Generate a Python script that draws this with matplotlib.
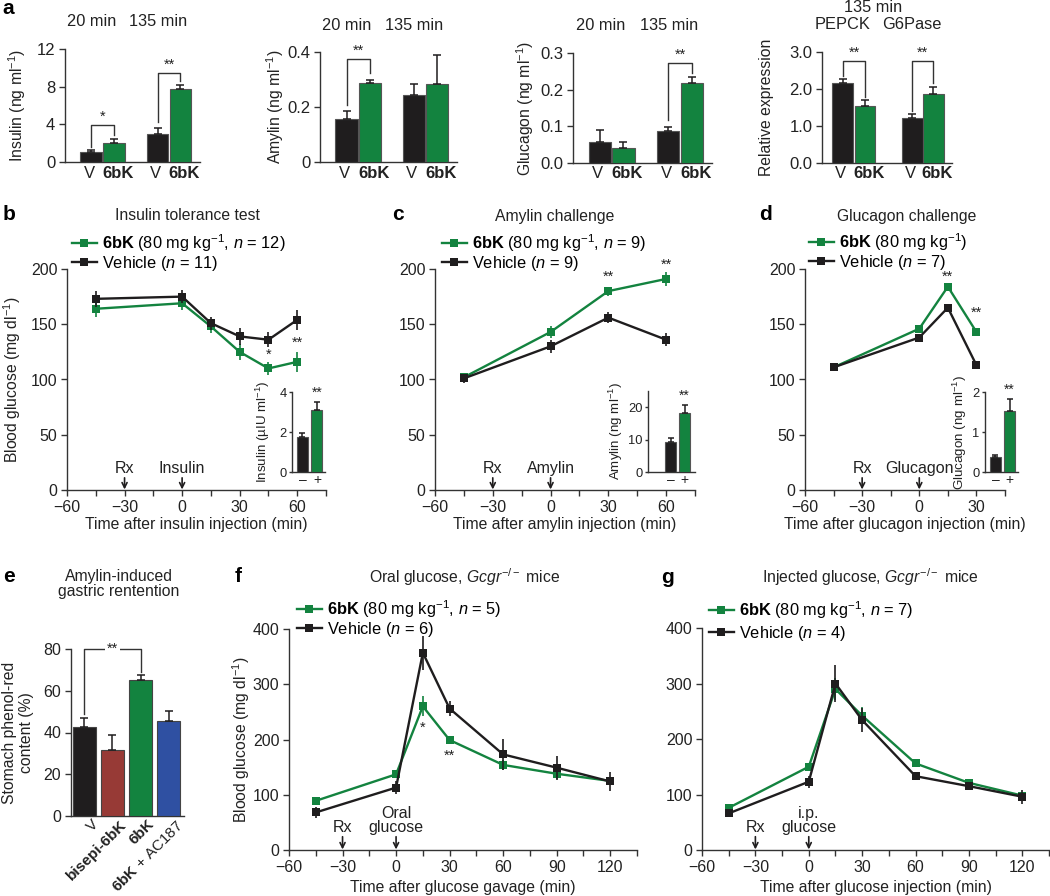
import matplotlib
matplotlib.use('Agg')
import matplotlib.pyplot as plt
from matplotlib.lines import Line2D

plt.rcParams['font.family'] = ['Liberation Sans', 'DejaVu Sans']
plt.rcParams['mathtext.fontset'] = 'custom'
plt.rcParams['mathtext.rm'] = 'Liberation Sans'
plt.rcParams['mathtext.it'] = 'Liberation Sans:italic'
plt.rcParams['mathtext.bf'] = 'Liberation Sans:bold'
plt.rcParams['axes.unicode_minus'] = True

# ------------------------------------------------------------------ data
# panel a
a_groups = ['20 min', '135 min']
a_bar_labels = ['V', '6bK']
insulin_V = [1.1, 2.95]
insulin_V_err = [0.2, 0.7]
insulin_6bK = [2.02, 7.74]
insulin_6bK_err = [0.4, 0.42]
amylin_V = [0.156, 0.244]
amylin_V_err = [0.031, 0.04]
amylin_6bK = [0.289, 0.284]
amylin_6bK_err = [0.010, 0.104]
glucagon_V = [0.058, 0.088]
glucagon_V_err = [0.032, 0.011]
glucagon_6bK = [0.041, 0.219]
glucagon_6bK_err = [0.015, 0.015]
expr_genes = ['PEPCK', 'G6Pase']
expr_V = [2.16, 1.22]
expr_V_err = [0.12, 0.11]
expr_6bK = [1.55, 1.87]
expr_6bK_err = [0.14, 0.18]

# panel b: insulin tolerance test
b_time = [-45, 0, 15, 30, 45, 60]
b_6bK = [164, 169, 148, 125, 110, 116]
b_6bK_err = [7, 6, 6, 7, 6, 9]
b_veh = [173, 175, 151, 139, 136, 154]
b_veh_err = [7, 6, 6, 8, 7, 9]
b_inset = [1.75, 3.1]
b_inset_err = [0.18, 0.42]

# panel c: amylin challenge
c_time = [-45, 0, 30, 60]
c_6bK = [102, 143, 180, 191]
c_6bK_err = [4, 5, 4, 6]
c_veh = [101, 130, 156, 136]
c_veh_err = [4, 6, 5, 6]
c_inset = [9.2, 18.2]
c_inset_err = [1.4, 2.6]

# panel d: glucagon challenge
d_time = [-45, 0, 15, 30]
d_6bK = [111, 146, 184, 143]
d_6bK_err = [3, 3, 3, 3]
d_veh = [111, 138, 165, 113]
d_veh_err = [3, 3, 3, 3]
d_inset = [0.37, 1.53]
d_inset_err = [0.05, 0.30]

# panel e: gastric retention
e_labels = ['V', 'bisepi-6bK', '6bK', r'$\mathbf{6bK}$ + AC187']
e_vals = [42.5, 31.5, 65.0, 45.5]
e_err = [4.5, 7.5, 2.5, 4.8]

# panel f: oral glucose, Gcgr-/- mice
f_time = [-45, 0, 15, 30, 60, 90, 120]
f_6bK = [89, 137, 260, 199, 154, 138, 125]
f_6bK_err = [5, 6, 18, 5, 9, 9, 6]
f_veh = [68, 113, 357, 256, 173, 149, 124]
f_veh_err = [10, 12, 31, 13, 28, 22, 17]

# panel g: injected glucose, Gcgr-/- mice
g_time = [-45, 0, 15, 30, 60, 90, 120]
g_6bK = [76, 150, 290, 242, 156, 121, 98]
g_6bK_err = [5, 7, 20, 15, 7, 5, 5]
g_veh = [66, 123, 300, 234, 133, 115, 96]
g_veh_err = [5, 11, 33, 22, 5, 5, 13]

# ------------------------------------------------------------------ style
W, H = 1050, 896
fig = plt.figure(figsize=(W / 100, H / 100), dpi=100)
GREEN = '#13833f'
BLACK = '#1f1d1e'
RED = '#973a36'
BLUE = '#2f50a2'
AXC = '#333333'
TXT = '#222222'
FS = 11.3      # axis labels / titles
TFS = 11.5     # tick labels of main panels
LFS = 11.8     # legend


def px_axes(l, t, r, b, labelsize=TFS):
    ax = fig.add_axes([l / W, 1 - b / H, (r - l) / W, (b - t) / H])
    for s in ['top', 'right']:
        ax.spines[s].set_visible(False)
    for s in ['left', 'bottom']:
        ax.spines[s].set_color(AXC)
        ax.spines[s].set_linewidth(1.0)
    ax.tick_params(which='both', colors=AXC, labelcolor=TXT, length=4,
                   width=1, direction='out', labelsize=labelsize, pad=3)
    ax.patch.set_alpha(0)
    return ax


def ftext(x, y, s, **kw):
    kw.setdefault('color', TXT)
    return fig.text(x / W, 1 - y / H, s, **kw)


def ylab(ax, box, text, xpx, size=FS):
    l, t, r, b = box
    ax.set_ylabel(text, fontsize=size, color=TXT, va='center', ha='center',
                  multialignment='center')
    ax.yaxis.set_label_coords((xpx - l) / (r - l), 0.5)


def xlab(ax, box, text, ypx, size=FS):
    l, t, r, b = box
    ax.set_xlabel(text, fontsize=size, color=TXT, va='center')
    ax.xaxis.set_label_coords(0.5, (b - ypx) / (b - t))


# ------------------------------------------------------------------ panel a
def bar_panel(box, v, ve, k, ke, ylim, yticks, yticklabels, ylabel, ylabel_x,
              pos, toplabels, brackets):
    ax = px_axes(*box, labelsize=12)
    xs_v = [pos[0], pos[2]]
    xs_k = [pos[1], pos[3]]
    ekw = dict(ecolor=BLACK, elinewidth=1.1, capsize=3, capthick=1.1)
    ax.bar(xs_v, v, width=1.0, color=BLACK, edgecolor='#555555', lw=0.8,
           yerr=[[0, 0], ve], error_kw=ekw, zorder=3)
    ax.bar(xs_k, k, width=1.0, color=GREEN, edgecolor='#555555', lw=0.8,
           yerr=[[0, 0], ke], error_kw=ekw, zorder=3)
    ax.set_xlim(0, 6.2)
    ax.set_ylim(*ylim)
    ax.set_yticks(yticks)
    ax.set_yticklabels(yticklabels)
    ax.set_xticks([])
    for xv, xk in zip(xs_v, xs_k):
        ax.annotate(a_bar_labels[0], xy=(xv, 0), xycoords=('data', 'axes fraction'),
                    xytext=(-2, -11), textcoords='offset pixels', ha='center',
                    va='center', fontsize=12, color=TXT)
        ax.annotate(a_bar_labels[1], xy=(xk, 0), xycoords=('data', 'axes fraction'),
                    xytext=(4, -11), textcoords='offset pixels', ha='center',
                    va='center', fontsize=12, fontweight='bold', color=TXT)
    ylab(ax, box, ylabel, ylabel_x)
    for i, lab in enumerate(toplabels):
        cx = (pos[2 * i] + pos[2 * i + 1]) / 2
        ax.annotate(lab, xy=(cx, 1), xycoords=('data', 'axes fraction'),
                    xytext=(-11, 27), textcoords='offset pixels',
                    ha='center', va='center', fontsize=11.8, color=TXT)
    for (i, y0, hgt, y1, star) in brackets:
        x0, x1 = pos[2 * i], pos[2 * i + 1]
        ax.plot([x0, x0, x1, x1], [y0, hgt, hgt, y1], color=AXC, lw=1,
                clip_on=False, zorder=4)
        ax.annotate(star, xy=((x0 + x1) / 2, hgt), xytext=(0, 1),
                    textcoords='offset pixels', ha='center', va='bottom',
                    fontsize=10.5, color=TXT, annotation_clip=False)
    return ax


POS_A = [1.2, 2.25, 4.25, 5.3]
bar_panel((65, 49, 200, 162), insulin_V, insulin_V_err, insulin_6bK,
          insulin_6bK_err, (0, 12), [0, 4, 8, 12], ['0', '4', '8', '12'],
          r'Insulin (ng ml$^{-1}$)', 17, POS_A, a_groups,
          [(0, 1.6, 3.9, 2.85, '*'), (1, 4.25, 9.5, 8.6, '**')])
bar_panel((320, 52, 457, 162), amylin_V, amylin_V_err, amylin_6bK,
          amylin_6bK_err, (0, 0.4), [0, 0.2, 0.4], ['0', '0.2', '0.4'],
          r'Amylin (ng ml$^{-1}$)', 275, POS_A, a_groups,
          [(0, 0.207, 0.374, 0.323, '**')])
bar_panel((573, 53, 712, 163), glucagon_V, glucagon_V_err, glucagon_6bK,
          glucagon_6bK_err, (0, 0.3), [0, 0.1, 0.2, 0.3],
          ['0.0', '0.1', '0.2', '0.3'], r'Glucagon (ng ml$^{-1}$)', 525,
          POS_A, a_groups, [(1, 0.117, 0.274, 0.245, '**')])
bar_panel((822, 52, 952, 163), expr_V, expr_V_err, expr_6bK, expr_6bK_err,
          (0, 3.0), [0, 1, 2, 3], ['0.0', '1.0', '2.0', '3.0'],
          'Relative expression', 767, [1.0, 2.05, 4.3, 5.3], expr_genes,
          [(0, 2.34, 2.75, 1.78, '**'), (1, 1.40, 2.75, 2.16, '**')])
ftext(873, 8, '135 min', ha='center', va='center', fontsize=11.8)


# ------------------------------------------------------------------ line panels
def line_panel(box, t, y6, e6, yv, ev, xlim, xmajor, xminor, ylim, yticks,
               legend_labels, leg_xy, leg_space):
    ax = px_axes(*box)
    kw = dict(marker='s', ms=6.3, lw=1.7, capsize=3, elinewidth=1.2,
              capthick=1.2, mew=0, clip_on=False)
    ax.errorbar(t, y6, yerr=e6, color=GREEN, ecolor=GREEN, zorder=3, **kw)
    ax.errorbar(t, yv, yerr=ev, color=BLACK, ecolor=BLACK, zorder=4, **kw)
    ax.set_xlim(*xlim)
    ax.set_ylim(*ylim)
    ax.set_xticks(xmajor)
    ax.set_xticks(xminor, minor=True)
    ax.set_yticks(yticks)
    handles = [Line2D([], [], color=GREEN, marker='s', ms=6.3, lw=1.7, mew=0),
               Line2D([], [], color=BLACK, marker='s', ms=6.3, lw=1.7, mew=0)]
    ax.legend(handles, legend_labels, loc='upper left',
              bbox_to_anchor=(leg_xy[0] / W, 1 - leg_xy[1] / H),
              bbox_transform=fig.transFigure, frameon=False, fontsize=LFS,
              borderpad=0, borderaxespad=0, handlelength=1.5,
              handletextpad=0.35, labelspacing=leg_space)
    return ax


def arrows(ax, items, ytxt, ytail, ytip):
    for x, lab in items:
        ax.annotate('', xy=(x, ytip), xytext=(x, ytail),
                    arrowprops=dict(arrowstyle='->', lw=1.2, color=BLACK,
                                    shrinkA=0, shrinkB=0,
                                    mutation_scale=9))
        ax.text(x, ytxt, lab, ha='center', va='bottom', fontsize=11.5,
                color=TXT, linespacing=0.95)


def inset(box, vals, errs, pos, xlim, ylim, yticks, ylabel, ylabel_x):
    ax = px_axes(*box, labelsize=9.3)
    ax.bar(pos, vals, width=1.0, color=[BLACK, GREEN], edgecolor='#555555',
           lw=0.8, yerr=[[0, 0], errs],
           error_kw=dict(ecolor=BLACK, elinewidth=1.1, capsize=2.5,
                         capthick=1.1), zorder=3)
    ax.set_xlim(*xlim)
    ax.set_ylim(*ylim)
    ax.set_yticks(yticks)
    ax.set_xticks(pos)
    ax.set_xticklabels(['\u2013', '+'], fontsize=10)
    ax.tick_params(axis='x', length=0, pad=1)
    ax.tick_params(axis='y', length=2.5, pad=1.5)
    ylab(ax, box, ylabel, ylabel_x, size=9.6)
    ax.annotate('**', xy=(pos[1], vals[1] + errs[1]), xytext=(0, 2),
                textcoords='offset pixels', ha='center', va='bottom',
                fontsize=10, color=TXT, annotation_clip=False)
    return ax


def stars(ax, items):
    for x, y, s in items:
        ax.text(x, y, s, ha='center', va='center', fontsize=10.5, color=TXT)


# panel b
box_b = (67, 269, 326, 490)
ax_b = line_panel(box_b, b_time, b_6bK, b_6bK_err, b_veh, b_veh_err,
                  (-60, 75), [-60, -30, 0, 30, 60], [-45, -15, 15, 45, 75],
                  (0, 200), [0, 50, 100, 150, 200],
                  [r'$\mathbf{6bK}$ (80 mg kg$^{-1}$, $n$ = 12)',
                   r'Vehicle ($n$ = 11)'], (72, 232), 0.0)
ylab(ax_b, box_b, r'Blood glucose (mg dl$^{-1}$)', 12)
xlab(ax_b, box_b, 'Time after insulin injection (min)', 525)
arrows(ax_b, [(-30, 'Rx'), (0, 'Insulin')], 13, 11, 0.5)
stars(ax_b, [(45, 122, '*'), (60, 133, '**')])
inset((292, 392, 325, 472), b_inset, b_inset_err, [0.95, 2.27], (0, 3),
      (0, 4), [0, 2, 4], r'Insulin (µIU ml$^{-1}$)', 263)

# panel c
box_c = (435, 269, 695, 490)
ax_c = line_panel(box_c, c_time, c_6bK, c_6bK_err, c_veh, c_veh_err,
                  (-60, 75), [-60, -30, 0, 30, 60], [-45, -15, 15, 45, 75],
                  (0, 200), [0, 50, 100, 150, 200],
                  [r'$\mathbf{6bK}$ (80 mg kg$^{-1}$, $n$ = 9)',
                   r'Vehicle ($n$ = 9)'], (442, 232), 0.0)
xlab(ax_c, box_c, 'Time after amylin injection (min)', 525)
arrows(ax_c, [(-30, 'Rx'), (0, 'Amylin')], 13, 11, 0.5)
stars(ax_c, [(30, 193, '**'), (60, 204, '**')])
inset((648, 391, 695, 472), c_inset, c_inset_err, [2.05, 3.32], (0, 4.27),
      (0, 25), [0, 10, 20], r'Amylin (ng ml$^{-1}$)', 616)

# panel d
box_d = (805, 269, 1005, 490)
ax_d = line_panel(box_d, d_time, d_6bK, d_6bK_err, d_veh, d_veh_err,
                  (-60, 45), [-60, -30, 0, 30], [-45, -15, 15, 45],
                  (0, 200), [0, 50, 100, 150, 200],
                  [r'$\mathbf{6bK}$ (80 mg kg$^{-1}$)',
                   r'Vehicle ($n$ = 7)'], (809, 231), 0.0)
xlab(ax_d, box_d, 'Time after glucagon injection (min)', 525)
arrows(ax_d, [(-30, 'Rx'), (0, 'Glucagon')], 13, 11, 0.5)
stars(ax_d, [(15, 193, '**'), (30, 160, '**')])
inset((985, 392, 1018, 472), d_inset, d_inset_err, [0.95, 2.23], (0, 3),
      (0, 2), [0, 1, 2], r'Glucagon (ng ml$^{-1}$)', 960)

# panel e
box_e = (71, 649, 184, 816)
ax_e = px_axes(*box_e)
e_pos = [0.5, 1.5, 2.5, 3.5]
ax_e.bar(e_pos, e_vals, width=0.84, color=[BLACK, RED, GREEN, BLUE],
         edgecolor='#444444', lw=0.8, yerr=[[0] * 4, e_err],
         error_kw=dict(ecolor=BLACK, elinewidth=1.1, capsize=3, capthick=1.1),
         zorder=3)
ax_e.set_xlim(0.02, 4.05)
ax_e.set_ylim(0, 80)
ax_e.set_yticks([0, 20, 40, 60, 80])
ax_e.set_xticks([p + 0.25 for p in e_pos])
ax_e.set_xticklabels(e_labels, rotation=45, ha='right', va='top',
                     rotation_mode='anchor', fontsize=11)
for i, lab in enumerate(ax_e.get_xticklabels()):
    if i in (1, 2):
        lab.set_fontweight('bold')
ax_e.tick_params(axis='x', length=0, pad=1)
ylab(ax_e, box_e, 'Stomach phenol-red\ncontent (%)', 18)
bx0, bx1 = e_pos[0], e_pos[2]
ax_e.plot([bx0, bx0, bx1, bx1], [49, 80, 80, 69], color=AXC, lw=1,
          clip_on=False, zorder=4)
ax_e.text((bx0 + bx1) / 2, 80, '**', ha='center', va='center', fontsize=10.5,
          color=TXT, bbox=dict(facecolor='white', edgecolor='none', pad=1.0),
          zorder=5)

# panel f
box_f = (289, 629, 637, 850)
ax_f = line_panel(box_f, f_time, f_6bK, f_6bK_err, f_veh, f_veh_err,
                  (-60, 135), [-60, -30, 0, 30, 60, 90, 120],
                  [-45, -15, 15, 45, 75, 105, 135], (0, 400),
                  [0, 100, 200, 300, 400],
                  [r'$\mathbf{6bK}$ (80 mg kg$^{-1}$, $n$ = 5)',
                   r'Vehicle ($n$ = 6)'], (297, 598), 0.0)
ylab(ax_f, box_f, r'Blood glucose (mg dl$^{-1}$)', 241)
xlab(ax_f, box_f, 'Time after glucose gavage (min)', 887)
arrows(ax_f, [(-30, 'Rx'), (0, 'Oral\nglucose')], 27, 24, 1)
stars(ax_f, [(15, 221, '*'), (30, 170, '**')])

# panel g
box_g = (702, 628, 1049, 850)
ax_g = line_panel(box_g, g_time, g_6bK, g_6bK_err, g_veh, g_veh_err,
                  (-60, 135), [-60, -30, 0, 30, 60, 90, 120],
                  [-45, -15, 15, 45, 75, 105, 135], (0, 400),
                  [0, 100, 200, 300, 400],
                  [r'$\mathbf{6bK}$ (80 mg kg$^{-1}$, $n$ = 7)',
                   r'Vehicle ($n$ = 4)'], (709, 599), 0.2)
xlab(ax_g, box_g, 'Time after glucose injection (min)', 887)
arrows(ax_g, [(-30, 'Rx'), (0, 'i.p.\nglucose')], 27, 24, 1)

# ------------------------------------------------------------------ titles & letters
ftext(187, 216, 'Insulin tolerance test', ha='center', va='center', fontsize=FS)
ftext(555, 216, 'Amylin challenge', ha='center', va='center', fontsize=FS)
ftext(907, 216, 'Glucagon challenge', ha='center', va='center', fontsize=FS)
ftext(119, 584, 'Amylin-induced\ngastric rentention', ha='center',
      va='center', fontsize=FS, linespacing=1.05)
ftext(465, 577, r'Oral glucose, $Gcgr^{-/-}$ mice', ha='center', va='center',
      fontsize=FS)
ftext(870, 577, r'Injected glucose, $Gcgr^{-/-}$ mice', ha='center',
      va='center', fontsize=FS)
for letter, x, y in [('a', 8, 8), ('b', 9, 214), ('c', 398, 214),
                     ('d', 765, 214), ('e', 9, 576), ('f', 238, 576),
                     ('g', 667, 577)]:
    ftext(x, y, letter, ha='center', va='center', fontsize=15,
          fontweight='bold', color='black')

fig.savefig('out.png', dpi=100)
